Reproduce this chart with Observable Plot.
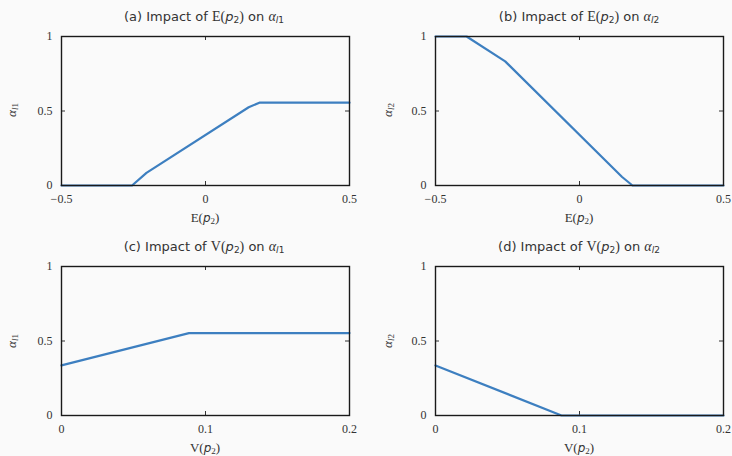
<!DOCTYPE html>
<html>
<head>
<meta charset="utf-8">
<script src="https://cdn.jsdelivr.net/npm/d3@7"></script>
<script src="https://cdn.jsdelivr.net/npm/@observablehq/plot@0.6"></script>
<style>
  html, body { margin: 0; padding: 0; background: #fafafa; }
  #wrap { position: relative; width: 732px; height: 456px; background: #fafafa; overflow: hidden; }
  .panel { position: absolute; }
  .title { position: absolute; transform: translate(-50%, -50%); white-space: nowrap;
           font-family: "DejaVu Sans", sans-serif; font-size: 13px; color: #333; }
  .xlab { position: absolute; transform: translate(-50%, -50%); white-space: nowrap;
          font-family: "Liberation Serif", serif; font-size: 13px; color: #333; }
  .ylab { position: absolute; transform: translate(-50%, -50%) rotate(-90deg); white-space: nowrap;
          font-family: "Liberation Serif", serif; font-size: 13px; color: #333; }
  .m { font-family: "Liberation Serif", serif; font-size: 14px; }
  .pi { font-family: "DejaVu Sans", sans-serif; font-style: italic; font-size: 13px; }
  .mi { font-family: "Liberation Serif", serif; font-style: italic; font-size: 14px; }
  .xlab .m, .ylab .mi { font-size: 13px; }
  .xlab .pi { font-size: 12px; }
  sub { font-size: 9px; vertical-align: -2px; line-height: 0; }
</style>
</head>
<body>
<div id="wrap"></div>
<script>
// ---- data ----
// (a) E(p2) vs alpha_l1
const aX = [-0.5, -0.255, -0.205, 0.15, 0.187, 0.5];
const aY = [0, 0, 0.085, 0.525, 0.556, 0.556];
// (b) E(p2) vs alpha_l2
const bX = [-0.5, -0.392, -0.258, 0.148, 0.184, 0.5];
const bY = [1, 1, 0.833, 0.057, 0, 0];
// (c) V(p2) vs alpha_l1
const cX = [0, 0.0885, 0.2];
const cY = [0.336, 0.553, 0.553];
// (d) V(p2) vs alpha_l2
const dX = [0, 0.0875, 0.2];
const dY = [0.336, 0, 0];

// tick values
const eTicks = [-0.5, 0, 0.5];
const vTicks = [0, 0.1, 0.2];
const yTicks = [0, 0.5, 1];

const fmt = d => (d < 0 ? "\u2212" + String(Math.abs(d)) : String(d));

function panel({xs, ys, xDomain, xTicks, ml, mr, mt, mb}) {
  const W = 366, H = 228;
  const iw = W - ml - mr, ih = H - mt - mb;
  const data = xs.map((x, i) => ({x, y: ys[i]}));
  const tickLen = 4;
  return Plot.plot({
    width: W, height: H,
    marginLeft: ml, marginRight: mr, marginTop: mt, marginBottom: mb,
    style: {background: "transparent", fontFamily: "Liberation Serif, serif", fontSize: "12px", color: "#333", overflow: "visible"},
    x: {domain: xDomain},
    y: {domain: [0, 1]},
    marks: [
      Plot.axisX(xTicks, {anchor: "bottom", tickSize: 0, tickPadding: 9, tickFormat: fmt, label: null, fill: "#333"}),
      Plot.axisY(yTicks, {anchor: "left", tickSize: 0, tickPadding: 9, tickFormat: fmt, label: null, fill: "#333"}),
      // inward tick marks on all four sides
      Plot.tickX(xTicks, {x: d => d, insetTop: ih - tickLen, stroke: "#333", strokeWidth: 1}),
      Plot.tickX(xTicks, {x: d => d, insetBottom: ih - tickLen, stroke: "#333", strokeWidth: 1}),
      Plot.tickY(yTicks, {y: d => d, insetRight: iw - tickLen, stroke: "#333", strokeWidth: 1}),
      Plot.tickY(yTicks, {y: d => d, insetLeft: iw - tickLen, stroke: "#333", strokeWidth: 1}),
      Plot.line(data, {x: "x", y: "y", stroke: "#3d7fc0", strokeWidth: 2.2, strokeLinejoin: "round"}),
      Plot.frame({stroke: "#1a1a1a", strokeWidth: 1.4})
    ]
  });
}

const wrap = document.getElementById("wrap");
function place(el, left, top) {
  const d = document.createElement("div");
  d.className = "panel";
  d.style.left = left + "px";
  d.style.top = top + "px";
  d.appendChild(el);
  wrap.appendChild(d);
}
function label(cls, html, x, y) {
  const d = document.createElement("div");
  d.className = cls;
  d.style.left = x + "px";
  d.style.top = y + "px";
  d.innerHTML = html;
  wrap.appendChild(d);
}

place(panel({xs: aX, ys: aY, xDomain: [-0.5, 0.5], xTicks: eTicks, ml: 61, mr: 17, mt: 36, mb: 43}), 0, 0);
place(panel({xs: bX, ys: bY, xDomain: [-0.5, 0.5], xTicks: eTicks, ml: 69, mr: 9, mt: 36, mb: 43}), 366, 0);
place(panel({xs: cX, ys: cY, xDomain: [0, 0.2], xTicks: vTicks, ml: 61, mr: 17, mt: 38, mb: 41}), 0, 228);
place(panel({xs: dX, ys: dY, xDomain: [0, 0.2], xTicks: vTicks, ml: 69, mr: 9, mt: 38, mb: 41}), 366, 228);

const E = '<span class="m">E(</span><span class="pi">p</span><sub>2</sub><span class="m">)</span>';
const V = '<span class="m">V(</span><span class="pi">p</span><sub>2</sub><span class="m">)</span>';
const A1 = '<span class="mi">α</span><sub><i>l</i>1</sub>';
const A2 = '<span class="mi">α</span><sub><i>l</i>2</sub>';

label("title", "(a) Impact of " + E + " on " + A1, 204, 17);
label("title", "(b) Impact of " + E + " on " + A2, 579, 17);
label("title", "(c) Impact of " + V + " on " + A1, 204, 247);
label("title", "(d) Impact of " + V + " on " + A2, 579, 247);

label("xlab", E, 205, 218);
label("xlab", E, 579, 218);
label("xlab", V, 205, 448);
label("xlab", V, 579, 448);

label("ylab", A1, 12, 110);
label("ylab", A2, 388, 110);
label("ylab", A1, 12, 341);
label("ylab", A2, 388, 341);
</script>
</body>
</html>
